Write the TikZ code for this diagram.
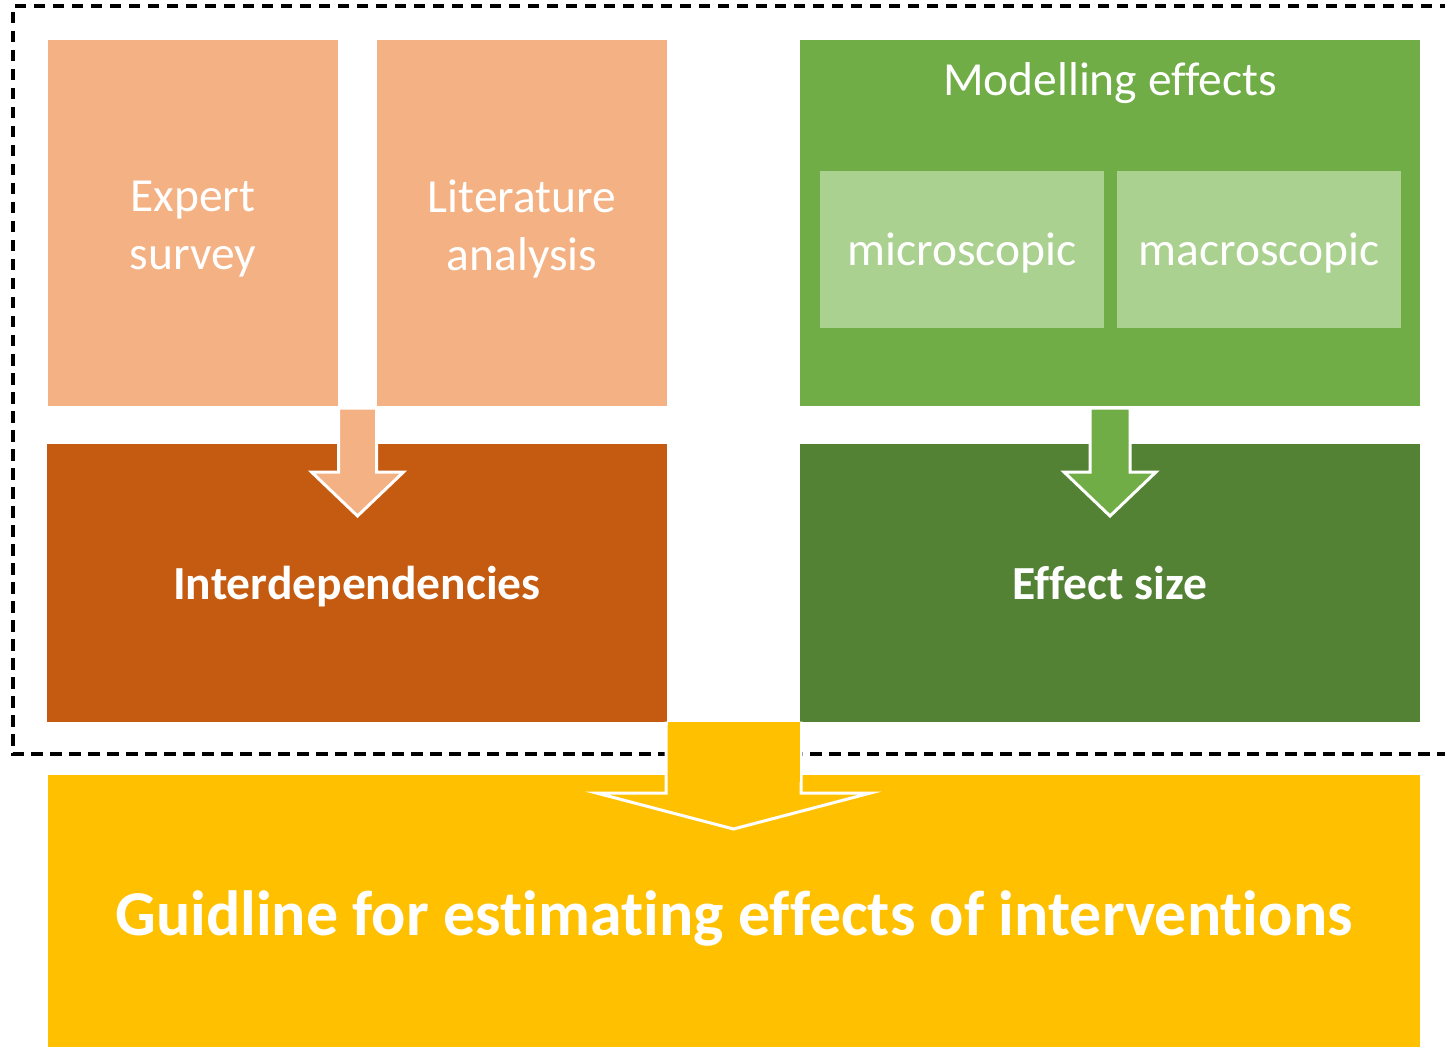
\documentclass[tikz,border=0pt]{standalone}
\usepackage{fontspec}
\setmainfont[Ligatures=NoCommon]{Carlito}
\usetikzlibrary{calc}

\definecolor{peach}{HTML}{F4B183}
\definecolor{rust}{HTML}{C55A11}
\definecolor{leaf}{HTML}{70AD47}
\definecolor{paleleaf}{HTML}{ABD190}
\definecolor{forest}{HTML}{548235}
\definecolor{amber}{HTML}{FFC000}

\begin{document}
\begin{tikzpicture}[x=1pt, y=-1pt,
  panel/.style={inner sep=0pt, outer sep=0pt, anchor=north west, draw=none},
  caption/.style={inner sep=0pt, text=white, align=center},
  plain/.style={caption, font=\fontsize{47.5}{58}\selectfont},
  heavy/.style={caption, font=\fontsize{47.5}{58}\selectfont\bfseries},
  huge/.style={caption, font=\fontsize{63.9}{74}\selectfont\bfseries},
  blockarrow/.style={draw=white, line width=3pt, line join=miter}
]
\useasboundingbox (0,0) rectangle (1445,1048);

% dashed frame around the analysis stage
\draw[line width=3.4pt, dash pattern=on 11.5pt off 7.5pt]
  (1470,6) -- (13,6) -- (13,754) -- (1470,754);

% upper row
\node[panel, fill=peach, minimum width=290pt, minimum height=366pt] (expert) at (48,40) {};
\node[panel, fill=peach, minimum width=290pt, minimum height=366pt] (lit) at (377,40) {};
\node[panel, fill=leaf, minimum width=620pt, minimum height=366pt] (model) at (800,40) {};
\node[panel, fill=paleleaf, minimum width=284pt, minimum height=157pt] (micro) at (820,171) {};
\node[panel, fill=paleleaf, minimum width=284pt, minimum height=157pt] (macro) at (1117,171) {};

% middle row
\node[panel, fill=rust, minimum width=620pt, minimum height=278pt] (inter) at (47,444) {};
\node[panel, fill=forest, minimum width=620pt, minimum height=278pt] (effect) at (800,444) {};

% result
\node[panel, fill=amber, minimum width=1372pt, minimum height=272pt] (guide) at (48,775) {};

% captions
\node[plain] (expert-t) at ($(expert.center)+(0,6)$) {Expert\\survey};
\node[plain] (lit-t) at ($(lit.center)+(0,6)$) {Literature\\analysis};
\node[plain] (model-t) at (1110,83) {Modelling effects};
\node[plain] (micro-t) at ($(micro.center)+(0,3)$) {microscopic};
\node[plain] (macro-t) at ($(macro.center)+(0,3)$) {macroscopic};
\node[heavy] (inter-t) at ($(inter.center)+(0,4)$) {Interdependencies};
\node[heavy] (effect-t) at (effect.center) {Effect size};
\node[huge] (guide-t) at ($(guide.center)+(0,7)$) {Guidline for estimating effects of interventions};

% block arrows
\coordinate (a1) at ($(expert.north east)!0.5!(lit.south west)$);
\coordinate (a1top) at (a1 |- expert.south);
\draw[blockarrow, fill=peach]
  ($(a1top)+(-19,2)$) -- ($(a1top)+(19,2)$) -- ($(a1top)+(19,66)$)
  -- ($(a1top)+(46,66)$) -- ($(a1top)+(0,110)$) -- ($(a1top)+(-46,66)$)
  -- ($(a1top)+(-19,66)$) -- cycle;

\coordinate (a2top) at (model.south);
\draw[blockarrow, fill=leaf]
  ($(a2top)+(-20,2)$) -- ($(a2top)+(20,2)$) -- ($(a2top)+(20,66)$)
  -- ($(a2top)+(46,66)$) -- ($(a2top)+(0,110)$) -- ($(a2top)+(-46,66)$)
  -- ($(a2top)+(-20,66)$) -- cycle;

\coordinate (a3top) at ($(inter.south east)!0.5!(effect.south west)$);
\draw[blockarrow, fill=amber]
  ($(a3top)+(-67.5,1)$) -- ($(a3top)+(67.5,1)$) -- ($(a3top)+(67.5,71)$)
  -- ($(a3top)+(137,71)$) -- ($(a3top)+(0,107)$) -- ($(a3top)+(-137,71)$)
  -- ($(a3top)+(-67.5,71)$) -- cycle;
\fill[amber] ($(a3top)+(-66,0)$) rectangle ($(a3top)+(66,60)$);
\end{tikzpicture}
\end{document}
